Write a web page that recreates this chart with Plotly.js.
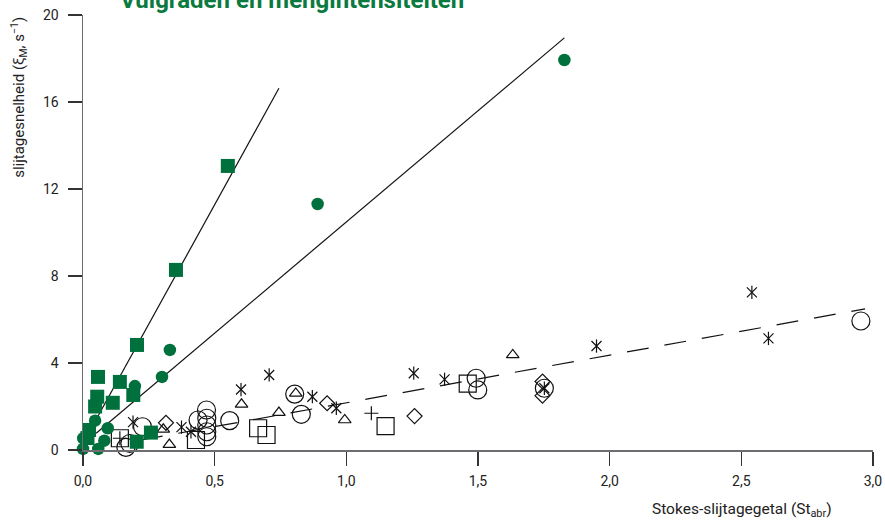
<!DOCTYPE html>
<html>
<head>
<meta charset="utf-8">
<script src="https://cdn.plot.ly/plotly-3.0.1.min.js"></script>
<style>html,body{margin:0;padding:0;background:#fff;}#chart{width:885px;height:521px;}</style>
</head>
<body>
<div id="chart"></div>
<script>
// Green filled squares
const greenSqX = [0.550, 0.353, 0.205, 0.057, 0.140, 0.054, 0.046, 0.113, 0.191, 0.023, 0.017, 0.258, 0.204];
const greenSqY = [13.06, 8.28, 4.83, 3.36, 3.13, 2.45, 2.00, 2.17, 2.53, 0.92, 0.55, 0.80, 0.38];
// Green filled circles
const greenCircX = [1.828, 0.891, 0.330, 0.300, 0.197, 0.046, 0.094, 0.001, 0.000, 0.058, 0.081];
const greenCircY = [17.93, 11.31, 4.60, 3.36, 2.94, 1.35, 1.00, 0.54, 0.05, 0.05, 0.43];
// Open circles
const circX = [0.163, 0.178, 0.226, 0.469, 0.437, 0.470, 0.470, 0.470, 0.470, 0.557, 0.829, 0.804, 1.493, 1.499, 1.752, 2.954];
const circY = [0.12, 0.30, 1.07, 1.84, 1.38, 1.46, 1.15, 0.84, 0.61, 1.35, 1.64, 2.57, 3.30, 2.76, 2.84, 5.93];
// Open squares
const sqX = [0.140, 0.429, 0.665, 0.697, 1.149, 1.461];
const sqY = [0.54, 0.46, 1.00, 0.69, 1.10, 3.05];
// Open triangles
const triX = [0.305, 0.328, 0.602, 0.744, 0.808, 0.994, 1.632];
const triY = [0.95, 0.25, 2.10, 1.72, 2.60, 1.38, 4.37];
// Open diamonds
const diaX = [0.315, 0.927, 1.259, 1.745, 1.745];
const diaY = [1.25, 2.15, 1.56, 3.15, 2.50];
// Asterisks
const astX = [0.19, 0.374, 0.410, 0.600, 0.707, 0.871, 0.962, 1.256, 1.373, 1.752, 1.950, 2.540, 2.603];
const astY = [1.28, 1.05, 0.84, 2.78, 3.45, 2.45, 1.92, 3.53, 3.25, 2.84, 4.78, 7.25, 5.13];
// Plus signs
const plusX = [0.140, 1.095];
const plusY = [0.54, 1.69];
// Fit lines
const fitSqX = [0.02, 0.744];
const fitSqY = [0.75, 16.63];
const fitCircX = [0.05, 1.828];
const fitCircY = [0.77, 18.95];
const fitOpenX = [0.22, 2.97];
const fitOpenY = [0.46, 6.49];
// Ticks
const xTicks = [0, 0.5, 1.0, 1.5, 2.0, 2.5, 3.0];
const xTickText = ["0,0", "0,5", "1,0", "1,5", "2,0", "2,5", "3,0"];
const yTicks = [0, 4, 8, 12, 16, 20];

const GREEN = "#00703C";
const BLACK = "#111";
function open(x, y, symbol, size) {
  return {x: x, y: y, type: "scatter", mode: "markers", cliponaxis: false, hoverinfo: "skip",
    marker: {symbol: symbol, size: size, color: BLACK, line: {color: BLACK, width: 1.2}}};
}
const traces = [
  {x: fitSqX, y: fitSqY, type: "scatter", mode: "lines", line: {color: BLACK, width: 1.2}, hoverinfo: "skip"},
  {x: fitCircX, y: fitCircY, type: "scatter", mode: "lines", line: {color: BLACK, width: 1.2}, hoverinfo: "skip"},
  {x: fitOpenX, y: fitOpenY, type: "scatter", mode: "lines", line: {color: BLACK, width: 1.2, dash: "22px,16px"}, hoverinfo: "skip"},
  open(circX, circY, "circle-open", 18),
  open(sqX, sqY, "square-open", 17),
  open(triX, triY, "triangle-up-open", 11),
  open(diaX, diaY, "diamond-open", 11.5),
  open(astX, astY, "x-thin-open", 10),
  open(astX, astY, "line-ns-open", 9.5),
  open(plusX, plusY, "cross-thin-open", 10),
  {x: greenSqX, y: greenSqY, type: "scatter", mode: "markers", cliponaxis: false, hoverinfo: "skip",
    marker: {symbol: "square", size: 14, color: GREEN}},
  {x: greenCircX, y: greenCircY, type: "scatter", mode: "markers", cliponaxis: false, hoverinfo: "skip",
    marker: {symbol: "circle", size: 12.5, color: GREEN}}
];

const FONT = "Roboto, 'DejaVu Sans', sans-serif";
const layout = {
  width: 885, height: 521,
  margin: {l: 82.7, r: 11.7, t: 15, b: 71},
  paper_bgcolor: "#fff", plot_bgcolor: "#fff",
  showlegend: false,
  separators: ", ",
  font: {family: FONT, size: 14, color: "#222"},
  xaxis: {
    range: [0, 3], tickvals: xTicks, ticktext: xTickText,
    showgrid: false, zeroline: false, showline: true, linecolor: "#6d6e71", linewidth: 1.5,
    ticks: "outside", ticklen: 14, tickwidth: 1.2, tickcolor: "#333",
    tickfont: {family: FONT, size: 14, color: "#222"}, ticklabelstandoff: 4
  },
  yaxis: {
    range: [0, 20], tickvals: yTicks,
    showgrid: false, zeroline: false, showline: true, linecolor: "#6d6e71", linewidth: 1.5,
    ticks: "outside", ticklen: 14, tickwidth: 1.2, tickcolor: "#333",
    tickfont: {family: FONT, size: 14, color: "#222"}, ticklabelstandoff: 6
  },
  annotations: [
    {text: "<b>Vulgraden en mengintensiteiten</b>", xref: "paper", yref: "paper",
     x: (292 - 82.7) / 790.6, y: (450 + 0) / 435, xanchor: "center", yanchor: "middle",
     showarrow: false, font: {family: FONT, size: 24, color: "#0B7A3F"}},
    {text: "slijtagesnelheid (ξ<sub>M</sub>, s<sup>−1</sup>)", xref: "paper", yref: "paper",
     x: (18 - 82.7) / 790.6, y: 1, xanchor: "center", yanchor: "top", textangle: -90,
     showarrow: false, font: {family: FONT, size: 15, color: "#222"}},
    {text: "Stokes-slijtagegetal (St<sub>abr</sub>)", xref: "paper", yref: "paper",
     x: (834 - 82.7) / 790.6, y: (450 - 510) / 435, xanchor: "right", yanchor: "middle",
     showarrow: false, font: {family: FONT, size: 15.5, color: "#222"}}
  ]
};
Plotly.newPlot("chart", traces, layout, {displayModeBar: false, staticPlot: true});
</script>
</body>
</html>
